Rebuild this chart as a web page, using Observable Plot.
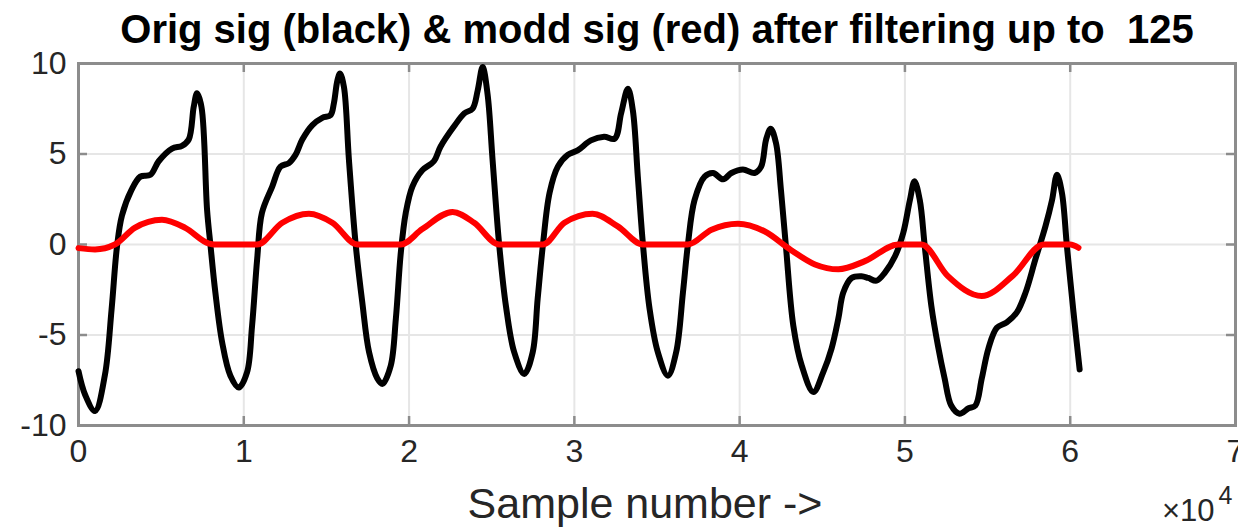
<!DOCTYPE html>
<html>
<head>
<meta charset="utf-8">
<script src="https://cdn.jsdelivr.net/npm/d3@7"></script>
<script src="https://cdn.jsdelivr.net/npm/@observablehq/plot@0.6"></script>
<style>
  html, body { margin: 0; padding: 0; background: #fff; }
  #chart { width: 1238px; height: 529px; }
</style>
</head>
<body>
<div id="chart"></div>
<script>
// Original signal (black): sample number and amplitude
const origSample = [
  0, 400, 1000, 1600, 2000, 2330, 2630, 3200, 3740, 4350, 4850, 5660, 6260, 6670, 6970, 7170, 7440,
  7780, 7980, 8280, 8690, 9190, 9700, 10200, 10500, 10810, 11100, 11720, 12220, 12730, 13130, 13540,
  14150, 14750, 15250, 15450, 15660, 15820, 16060, 16360, 16770, 17170, 17580, 18080, 18390, 18890,
  19200, 19500, 19800, 20200, 20800, 21500, 21900, 22700, 23350, 23840, 24150, 24450, 24750, 25050,
  25450, 25860, 26360, 26970, 27480, 27780, 28100, 28500, 29000, 29600, 30200, 31000, 31800, 32440,
  32830, 33240, 33540, 33840, 34150, 34550, 35050, 35660, 36160, 36570, 36870, 37270, 37880, 38390,
  39000, 39500, 40200, 40900, 41300, 41600, 41880, 42200, 42500, 42800, 43250, 43760, 44460, 45060,
  45560, 45970, 46270, 46770, 47380, 47780, 48280, 48790, 49400, 49900, 50300, 50580, 50900, 51200,
  51600, 52000, 52400, 52800, 53300, 53850, 54260, 54650, 55050, 55560, 56160, 56770, 57300, 57900,
  58500, 58900, 59200, 59500, 59800, 60200, 60570
];
const origValue = [
  -7.0, -8.3, -9.2, -7.2, -3.6, -0.1, 1.6, 3.0, 3.75, 3.85, 4.6, 5.3, 5.45, 5.8, 7.6, 8.35, 7.6,
  1.9, 0, -2.65, -5.4, -7.25, -7.9, -7.05, -4.5, -0.8, 1.75, 3.2, 4.3, 4.5, 4.95, 5.8,
  6.6, 7.0, 7.15, 7.8, 9.05, 9.45, 8.7, 4.7, 0, -3.2, -5.95, -7.4, -7.7, -6.7,
  -4.1, -0.45, 1.75, 3.2, 4.1, 4.6, 5.4, 6.5, 7.25, 7.5, 8.5, 9.8, 8.3, 4.7,
  0, -3.4, -5.95, -7.15, -5.95, -3.0, 0, 2.85, 4.3, 4.95, 5.2, 5.75, 5.95, 5.85,
  7.25, 8.6, 7.4, 3.75, 0, -3.55, -5.95, -7.25, -5.95, -2.65, 0, 2.45, 3.75, 3.95,
  3.6, 3.95, 4.15, 3.95, 4.3, 5.8, 6.4, 5.6, 3.0, -0.1, -4.5, -6.7, -8.15, -7.05,
  -5.75, -4.1, -2.65, -1.85, -1.75, -1.85, -2.0, -1.55, -0.65, 0.65, 2.45, 3.5, 2.45, -0.1,
  -3.4, -5.6, -7.4, -8.9, -9.35, -9.05, -8.9, -7.4, -5.75, -4.6, -4.3, -3.75, -2.65, -0.8,
  1.0, 2.45, 3.85, 2.85, -0.1, -3.75, -6.9
];

// Modified signal after filtering (red)
const moddSample = [
  0, 1000, 2200, 3400, 5050, 6460, 7900, 8200, 10800, 12330, 13940, 15360, 16870, 19500, 20800,
  22630, 23940, 25450, 28100, 29400, 31100, 32630, 34150, 36870, 38300, 39900, 41500, 43100,
  44560, 45970, 47580, 49600, 51000, 52600, 54650, 56500, 58400, 60000, 60500
];
const moddValue = [
  -0.2, -0.27, 0, 0.92, 1.37, 0.92, 0.05, 0, 0, 1.2, 1.7, 1.2, 0, 0, 0.85,
  1.8, 1.2, 0, 0, 1.2, 1.7, 1.0, 0, 0, 0.82, 1.15, 0.73, -0.3,
  -1.1, -1.37, -0.92, 0, 0, -1.75, -2.85, -1.75, 0, 0, -0.18
];

// Axis ticks
const xTicks = [0, 10000, 20000, 30000, 40000, 50000, 60000, 70000];
const yTicks = [-10, -5, 0, 5, 10];

const titleText = "Orig sig (black) & modd sig (red) after filtering up to  125";
const xLabelText = "Sample number ->";
const exponentBase = "\u00d710";
const exponentPower = "4";

const orig = origSample.map((s, i) => ({sample: s, value: origValue[i]}));
const modd = moddSample.map((s, i) => ({sample: s, value: moddValue[i]}));

const W = 1238, H = 529;
const mL = 78, mR = 3, mT = 63, mB = 104;
const frameW = W - mL - mR, frameH = H - mT - mB;
const tickLen = 9;
const axisGray = "#8c8c8c";
const textGray = "#262626";
const font = "'Liberation Sans', Arial, Helvetica, sans-serif";

const chart = Plot.plot({
  width: W,
  height: H,
  marginLeft: mL,
  marginRight: mR,
  marginTop: mT,
  marginBottom: mB,
  style: {fontFamily: font, background: "#fff", overflow: "visible"},
  x: {domain: [0, 70000], ticks: xTicks},
  y: {domain: [-10, 10], ticks: yTicks},
  marks: [
    Plot.gridX(xTicks, {stroke: "#e6e6e6", strokeOpacity: 1, strokeWidth: 2}),
    Plot.gridY(yTicks, {stroke: "#e6e6e6", strokeOpacity: 1, strokeWidth: 2}),
    // inward tick marks on all four sides
    Plot.tickX(xTicks, {x: d => d, stroke: axisGray, strokeWidth: 2.5, insetTop: frameH - tickLen}),
    Plot.tickX(xTicks, {x: d => d, stroke: axisGray, strokeWidth: 2.5, insetBottom: frameH - tickLen}),
    Plot.tickY(yTicks, {y: d => d, stroke: axisGray, strokeWidth: 2.5, insetRight: frameW - tickLen}),
    Plot.tickY(yTicks, {y: d => d, stroke: axisGray, strokeWidth: 2.5, insetLeft: frameW - tickLen}),
    Plot.frame({stroke: axisGray, strokeWidth: 3}),
    Plot.axisX(xTicks, {
      tickSize: 0, tickPadding: 14, fontSize: 32, fill: textGray,
      tickFormat: d => String(d / 10000), label: null
    }),
    Plot.axisY(yTicks, {
      tickSize: 0, tickPadding: 12, fontSize: 32, fill: textGray,
      tickFormat: d => String(d), label: null
    }),
    Plot.line(orig, {
      x: "sample", y: "value", stroke: "#000", strokeWidth: 6,
      curve: "catmull-rom", strokeLinejoin: "round", strokeLinecap: "round"
    }),
    Plot.line(modd, {
      x: "sample", y: "value", stroke: "#ff0000", strokeWidth: 6,
      curve: "monotone-x", strokeLinejoin: "round", strokeLinecap: "round"
    }),
    Plot.text([titleText], {
      frameAnchor: "top", dy: -33, text: d => d, fontSize: 40, fontWeight: "bold",
      fill: "#000", lineAnchor: "middle"
    }),
    Plot.text([xLabelText], {
      frameAnchor: "bottom", dx: -12, dy: 79, text: d => d, fontSize: 43, fill: textGray,
      lineAnchor: "middle"
    }),
    Plot.text([exponentBase], {
      frameAnchor: "bottom-right", dx: -21, dy: 86, text: d => d, fontSize: 31,
      fill: textGray, textAnchor: "end", lineAnchor: "middle"
    }),
    Plot.text([exponentPower], {
      frameAnchor: "bottom-right", dx: -3, dy: 70, text: d => d, fontSize: 25,
      fill: textGray, textAnchor: "end", lineAnchor: "middle"
    })
  ]
});

document.getElementById("chart").appendChild(chart);
</script>
</body>
</html>
